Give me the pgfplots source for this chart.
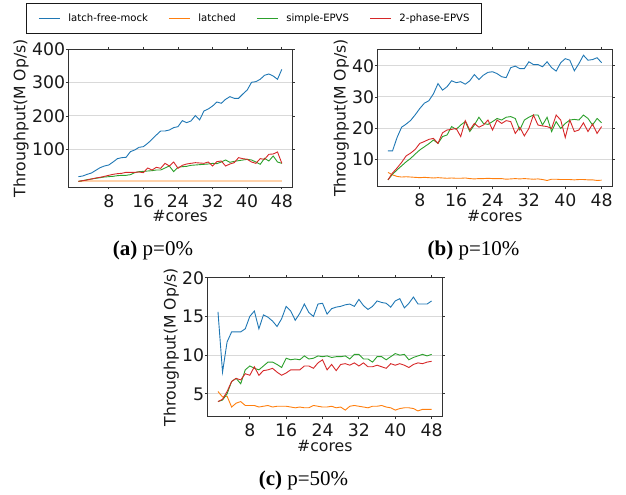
\documentclass[border=0pt]{standalone}
\usepackage{pgfplots}
\pgfplotsset{compat=1.18}
\usepackage{pgfplotstable}
\usepackage{fontspec}
\setmainfont{DejaVu Sans}
\newfontfamily\capfont{Liberation Serif}
\definecolor{tblue}{HTML}{1F77B4}
\definecolor{torange}{HTML}{FF7F0E}
\definecolor{tgreen}{HTML}{2CA02C}
\definecolor{tred}{HTML}{D62728}

\pgfplotstableread{
x lfm lat sim two
1 18 4 4 4
2 20 5 6 6
3 25 5 9 8
4 29 5 11 11
5 37 5 13 14
6 45 5 15 16
7 50 5 17 19
8 53 5 18 22
9 62 5 19 25
10 72 5 21 27
11 75 5 22 28
12 76 5 22 31
13 93 5 24 31
14 98 5 30 31
15 106 5 33 32
16 108 5 34 30
17 118 5 35 44
18 130 5 36 38
19 143 5 38 46
20 155 5 38 43
21 155 5 44 58
22 158 5 50 50
23 165 5 33 62
24 168 5 46 43
25 186 5 48 52
26 180 5 49 56
27 185 5 52 58
28 201 5 53 60
29 188 5 54 59
30 215 5 55 58
31 221 5 56 62
32 230 5 58 50
33 242 5 57 63
34 238 5 62 65
35 250 5 68 50
36 258 5 61 56
37 253 5 64 60
38 253 5 66 75
39 266 5 68 72
40 278 5 70 70
41 301 5 68 62
42 303 5 62 58
43 310 5 55 72
44 322 5 73 70
45 326 5 65 85
46 320 5 80 86
47 310 5 62 92
48 340 5 58 58
}\tblA

\pgfplotstableread{
x lfm lat sim two
1 12.7 5.8 3.4 3.4
2 12.7 5.0 5.2 5.6
3 17.0 4.5 6.6 7.2
4 20.3 4.3 7.9 9.0
5 21.3 4.4 9.2 11.1
6 22.5 4.3 10.3 12.0
7 24.3 4.2 11.7 13.2
8 26.3 4.1 13.0 15.1
9 28.0 4.2 14.0 15.7
10 28.8 4.1 15.0 16.4
11 31.0 4.0 16.2 16.7
12 34.3 4.1 15.1 15.1
13 32.2 4.0 17.3 18.5
14 33.3 3.9 17.8 19.4
15 35.2 4.0 20.5 19.6
16 34.6 3.9 19.6 19.9
17 34.9 3.9 21.0 17.3
18 34.1 4.0 22.1 22.4
19 35.2 3.8 18.9 19.4
20 37.2 3.7 21.0 21.5
21 35.6 3.8 23.5 20.3
22 37.0 3.8 21.5 21.0
23 37.9 3.9 21.2 22.6
24 38.1 3.8 22.1 19.4
25 37.5 3.8 23.1 22.6
26 36.5 3.8 22.6 21.5
27 36.2 3.6 23.5 22.4
28 39.4 3.7 23.7 22.1
29 39.9 3.8 23.1 18.3
30 39.1 3.7 19.4 20.3
31 39.1 3.8 22.6 17.5
32 41.3 3.7 23.5 19.9
33 40.4 3.6 24.2 24.2
34 40.4 3.7 24.2 21.0
35 39.7 3.5 21.0 20.7
36 41.3 3.2 23.5 20.5
37 39.4 3.6 18.9 19.9
38 38.3 3.6 22.1 24.2
39 41.0 3.5 19.9 22.6
40 42.3 3.5 21.5 17.0
41 41.8 3.5 22.6 22.6
42 38.4 3.4 22.8 18.9
43 40.7 3.5 22.6 19.4
44 43.4 3.5 24.2 21.7
45 41.8 3.4 23.1 18.9
46 42.0 3.4 21.0 21.3
47 42.6 3.2 23.1 18.3
48 41.0 3.3 21.7 20.5
}\tblB

\pgfplotstableread{
x lfm lat sim two
1 15.6 5.3 4.0 4.0
2 7.8 4.6 4.2 4.3
3 11.7 4.7 5.0 5.3
4 13.0 3.3 6.6 6.6
5 13.0 3.8 7.0 7.0
6 13.0 4.0 6.3 6.8
7 13.4 3.5 8.1 7.6
8 15.0 3.5 8.6 7.4
9 15.7 3.5 8.3 8.5
10 13.4 3.3 8.1 7.4
11 15.2 3.4 8.6 8.0
12 14.9 3.5 9.1 8.1
13 14.4 3.3 9.1 8.3
14 13.7 3.4 8.8 7.8
15 14.7 3.4 8.4 7.4
16 16.3 3.4 9.6 7.7
17 15.7 3.3 9.4 8.1
18 14.5 3.2 9.5 8.1
19 15.4 3.3 9.4 8.1
20 16.6 3.2 9.9 8.6
21 15.5 3.2 9.5 8.6
22 15.0 3.5 9.6 8.3
23 16.6 3.4 9.9 9.0
24 16.7 3.3 9.8 9.4
25 15.3 3.3 9.9 8.1
26 16.0 3.4 9.7 8.8
27 16.2 3.2 9.8 8.0
28 16.3 3.3 9.8 8.8
29 16.5 2.9 9.9 8.9
30 16.6 3.4 9.5 8.7
31 16.3 3.5 10.1 9.0
32 17.2 3.4 10.1 8.6
33 16.4 3.3 9.5 9.0
34 15.9 3.2 9.5 8.5
35 16.3 3.4 9.1 8.5
36 17.0 3.4 9.8 8.7
37 16.8 3.5 9.8 8.5
38 16.7 3.3 9.4 8.3
39 16.2 3.2 9.8 8.9
40 17.0 2.9 10.2 8.7
41 17.3 3.1 10.0 8.9
42 16.1 3.2 10.1 8.7
43 16.7 3.2 9.4 8.4
44 17.5 3.1 9.7 8.8
45 16.6 2.8 9.9 9.0
46 16.6 3.0 10.1 8.9
47 16.6 3.0 9.9 9.1
48 17.0 3.0 10.1 9.2
}\tblC

\pgfplotsset{
  sub/.style={
    scale only axis, anchor=north west,
    xmin=-1.35, xmax=50.35,
    xtick={8,16,24,32,40,48},
    ymajorgrids, grid style={black!15, line width=1bp},
    axis line style={black!80, line width=0.9bp},
    tick align=outside, major tick length=2.5bp,
    tick style={black!80, line width=0.8bp},
    /pgf/number format/assume math mode=true,
    tick label style={font=\fontsize{17.3bp}{18bp}\selectfont, text=black!90},
    yticklabel style={inner xsep=0.5bp},
    xticklabel style={inner ysep=4.5bp},
    label style={font=\fontsize{15.7bp}{17bp}\selectfont, text=black!90},
    xlabel={\#cores},
    ylabel={Throughput(M Op/s)},
    xlabel style={at={(axis description cs:0.5,0)}, anchor=base, yshift=-34.5bp},
    every axis plot/.append style={line width=0.9bp, no marks},
    legend image code/.code={\draw[#1] plot coordinates {(0bp,0bp) (10.5bp,0bp) (21bp,0bp)};},
  }
}

\begin{document}
\begin{tikzpicture}
\path[use as bounding box] (0bp,0bp) rectangle (626bp,-495bp);

\begin{axis}[sub, at={(68.3bp,-49.3bp)}, width=223.7bp, height=137.7bp,
  ymin=-13, ymax=400, ytick={100,200,300,400},
  ylabel style={at={(axis description cs:-0.2114,0.5)}, anchor=center},
  legend columns=4,
  legend style={at={(axis description cs:0.830,1.2237)}, anchor=center,
    draw=black!90, line width=0.8bp, font=\fontsize{10.1bp}{12bp}\selectfont,
    inner xsep=12bp, inner ysep=10.5bp,
    nodes={inner xsep=0bp, inner ysep=0bp},
    /tikz/every odd column/.style={column sep=8bp},
    /tikz/every even column/.style={column sep=20.5bp}},
]
\addplot[tblue] table[x=x,y=lfm]{\tblA};
\addplot[torange] table[x=x,y=lat]{\tblA};
\addplot[tgreen] table[x=x,y=sim]{\tblA};
\addplot[tred] table[x=x,y=two]{\tblA};
\legend{latch-free-mock,latched,simple-EPVS,2-phase-EPVS}
\end{axis}

\begin{axis}[sub, at={(377.3bp,-49.3bp)}, width=235bp, height=137.4bp,
  ymin=1.2, ymax=45.3, ytick={10,20,30,40},
  ylabel style={at={(axis description cs:-0.1532,0.5)}, anchor=center},
]
\addplot[tblue] table[x=x,y=lfm]{\tblB};
\addplot[torange] table[x=x,y=lat]{\tblB};
\addplot[tgreen] table[x=x,y=sim]{\tblB};
\addplot[tred] table[x=x,y=two]{\tblB};
\end{axis}

\begin{axis}[sub, at={(207.3bp,-277.7bp)}, width=235bp, height=139bp,
  ymin=2.05, ymax=20, ytick={5,10,15,20},
  ylabel style={at={(axis description cs:-0.1532,0.5)}, anchor=center},
]
\addplot[tblue] table[x=x,y=lfm]{\tblC};
\addplot[torange] table[x=x,y=lat]{\tblC};
\addplot[tgreen] table[x=x,y=sim]{\tblC};
\addplot[tred] table[x=x,y=two]{\tblC};
\end{axis}

\node[anchor=base, font=\capfont\fontsize{21bp}{24bp}\selectfont] at (153bp,-255bp) {\textbf{(a)}~p=0\%};
\node[anchor=base, font=\capfont\fontsize{21bp}{24bp}\selectfont] at (473.5bp,-255bp) {\textbf{(b)}~p=10\%};
\node[anchor=base, font=\capfont\fontsize{21bp}{24bp}\selectfont] at (303.5bp,-485bp) {\textbf{(c)}~p=50\%};
\end{tikzpicture}
\end{document}
